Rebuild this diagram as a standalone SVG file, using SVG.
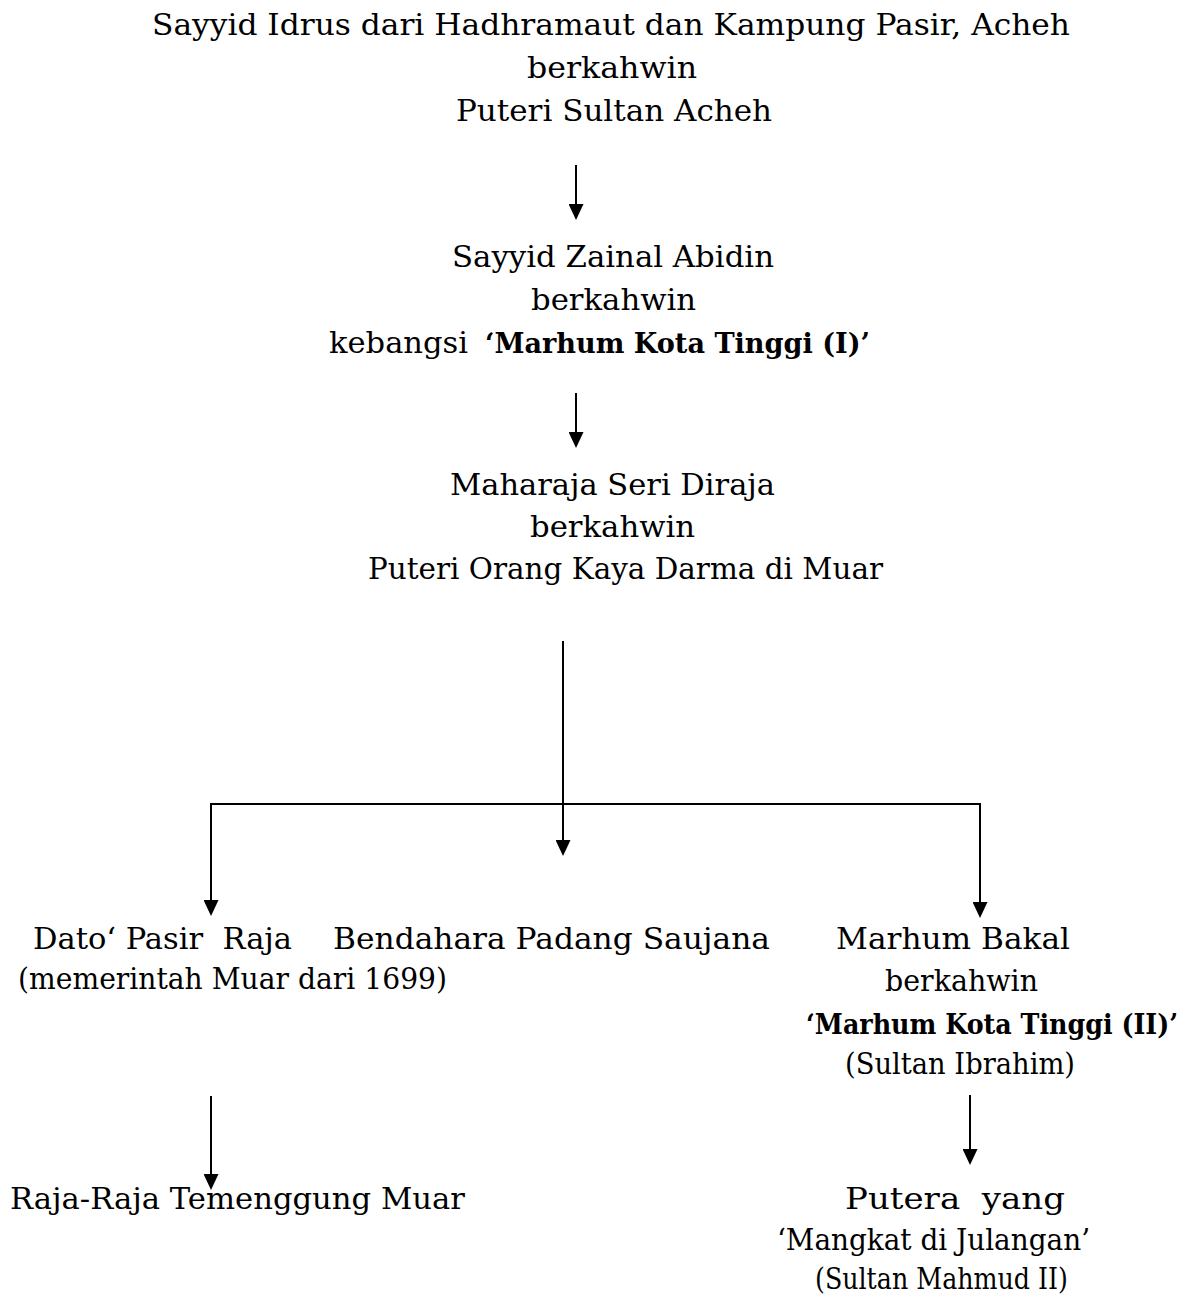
<svg xmlns="http://www.w3.org/2000/svg" width="1200" height="1301" viewBox="0 0 1200 1301">
<style>
  text { font-family: "DejaVu Serif", "Liberation Serif", serif; font-size: 30px; fill: #000; }
  .b { font-weight: bold; font-size: 28px; }
  .b2 { font-weight: bold; font-size: 27px; }
  .conn { stroke: #000; stroke-width: 2; fill: none; }
</style>
<defs>
  <marker id="ah" markerUnits="userSpaceOnUse" viewBox="0 0 16 15" refX="11" refY="7.5" markerWidth="16" markerHeight="15" orient="auto">
    <path d="M0,0 L16,7.5 L0,15 z" fill="#000"/>
  </marker>
</defs>
<rect width="1200" height="1301" fill="#fff"/>

<g id="connectors">
  <line class="conn" x1="576" y1="165" x2="576" y2="215" marker-end="url(#ah)"/>
  <line class="conn" x1="576" y1="393" x2="576" y2="443" marker-end="url(#ah)"/>
  <line class="conn" x1="563" y1="641" x2="563" y2="851" marker-end="url(#ah)"/>
  <line class="conn" x1="210" y1="804" x2="981" y2="804"/>
  <line class="conn" x1="211" y1="804" x2="211" y2="911" marker-end="url(#ah)"/>
  <line class="conn" x1="980" y1="804" x2="980" y2="913" marker-end="url(#ah)"/>
  <line class="conn" x1="211" y1="1096" x2="211" y2="1185" marker-end="url(#ah)"/>
  <line class="conn" x1="970" y1="1095" x2="970" y2="1160" marker-end="url(#ah)"/>
</g>

<g id="node-sayyid-idrus">
  <text x="152" y="35" textLength="918" lengthAdjust="spacingAndGlyphs">Sayyid Idrus dari Hadhramaut dan Kampung Pasir, Acheh</text>
  <text x="527" y="78" textLength="170" lengthAdjust="spacingAndGlyphs">berkahwin</text>
  <text x="456" y="121" textLength="316" lengthAdjust="spacingAndGlyphs">Puteri Sultan Acheh</text>
</g>

<g id="node-zainal-abidin">
  <text x="452" y="267" textLength="322" lengthAdjust="spacingAndGlyphs">Sayyid Zainal Abidin</text>
  <text x="531" y="310" textLength="165" lengthAdjust="spacingAndGlyphs">berkahwin</text>
  <text x="329" y="353" textLength="139" lengthAdjust="spacingAndGlyphs">kebangsi</text>
  <text class="b" x="485" y="353" textLength="385" lengthAdjust="spacingAndGlyphs">‘Marhum Kota Tinggi (I)’</text>
</g>

<g id="node-maharaja">
  <text x="450" y="495" textLength="325" lengthAdjust="spacingAndGlyphs">Maharaja Seri Diraja</text>
  <text x="530" y="537" textLength="165" lengthAdjust="spacingAndGlyphs">berkahwin</text>
  <text x="368" y="579" textLength="515" lengthAdjust="spacingAndGlyphs">Puteri Orang Kaya Darma di Muar</text>
</g>

<g id="node-dato-pasir-raja">
  <text x="33" y="949" textLength="259" lengthAdjust="spacingAndGlyphs" xml:space="preserve">Dato‘ Pasir  Raja</text>
  <text x="18" y="989" textLength="429" lengthAdjust="spacingAndGlyphs">(memerintah Muar dari 1699)</text>
</g>

<g id="node-bendahara">
  <text x="333" y="949" textLength="437" lengthAdjust="spacingAndGlyphs">Bendahara Padang Saujana</text>
</g>

<g id="node-marhum-bakal">
  <text x="836" y="949" textLength="234" lengthAdjust="spacingAndGlyphs">Marhum Bakal</text>
  <text x="885" y="991" textLength="153" lengthAdjust="spacingAndGlyphs">berkahwin</text>
  <text class="b2" x="806" y="1034" textLength="372" lengthAdjust="spacingAndGlyphs">‘Marhum Kota Tinggi (II)’</text>
  <text x="845" y="1074" textLength="230" lengthAdjust="spacingAndGlyphs">(Sultan Ibrahim)</text>
</g>

<g id="node-raja-temenggung">
  <text x="10" y="1209" textLength="455" lengthAdjust="spacingAndGlyphs">Raja-Raja Temenggung Muar</text>
</g>

<g id="node-putera">
  <text x="845" y="1209" textLength="220" lengthAdjust="spacingAndGlyphs" xml:space="preserve">Putera  yang</text>
  <text x="777" y="1250" textLength="313" lengthAdjust="spacingAndGlyphs">‘Mangkat di Julangan’</text>
  <text x="815" y="1289" textLength="253" lengthAdjust="spacingAndGlyphs">(Sultan Mahmud II)</text>
</g>
</svg>
